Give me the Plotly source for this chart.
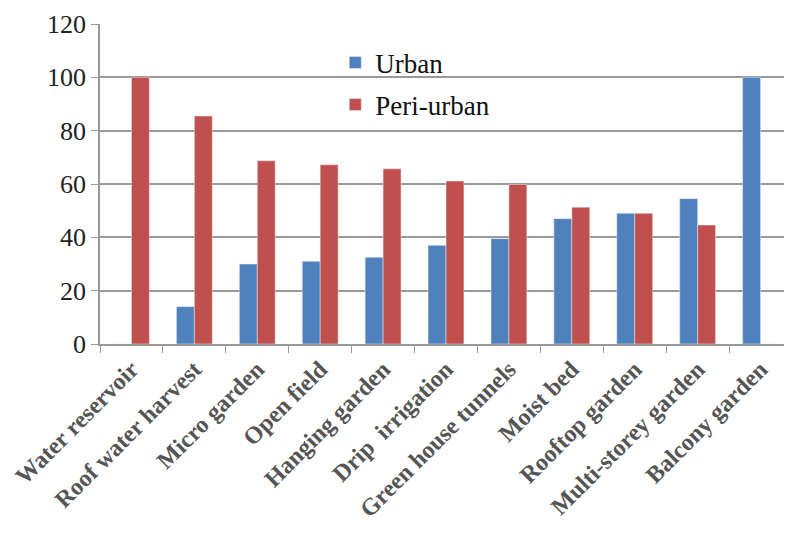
import plotly.graph_objects as go

categories = ["Water reservoir", "Roof water harvest", "Micro garden", "Open field",
              "Hanging garden", "Drip  irrigation", "Green house tunnels", "Moist bed",
              "Rooftop garden", "Multi-storey garden", "Balcony garden"]
urban = [0, 14, 30, 31, 32.5, 37, 39.5, 47, 49, 54.5, 100]
peri_urban = [100, 85.5, 68.7, 67.2, 65.7, 61.1, 59.8, 51.3, 49, 44.6, 0]
y_ticks = [0, 20, 40, 60, 80, 100, 120]

SERIF = "Liberation Serif, Times New Roman, serif"

fig = go.Figure()
fig.add_trace(go.Bar(x=categories, y=urban, name="Urban", marker_color="#4F81BD",
                     legendgroup="u"))
fig.add_trace(go.Bar(x=categories, y=peri_urban, name="Peri-urban", marker_color="#C0504D",
                     legendgroup="p"))

fig.update_layout(
    width=784, height=528,
    margin=dict(l=92, r=0, t=16, b=192),
    paper_bgcolor="white", plot_bgcolor="white",
    barmode="group", bargap=0.43, bargroupgap=0,
    font=dict(family=SERIF, size=26, color="#222"),
    showlegend=True,
    legend=dict(x=0.34, y=0.955, xanchor="left", yanchor="top",
                bgcolor="rgba(0,0,0,0)", font=dict(family=SERIF, size=27, color="#111"),
                tracegroupgap=4, traceorder="grouped"),
    xaxis=dict(showline=True, linecolor="#999", linewidth=1.5, automargin=False,
               ticks="outside", tickson="boundaries", ticklen=7, tickcolor="#999",
               tickangle=-45, tickfont=dict(family=SERIF, size=24, color="#555", weight="bold"),
               showgrid=False),
    yaxis=dict(range=[0, 120], tickvals=y_ticks, showline=True, linecolor="#999", linewidth=1.5,
               automargin=False,
               ticks="outside", ticklen=7, tickcolor="#999",
               gridcolor="#999", gridwidth=1.5, zeroline=False,
               tickfont=dict(family=SERIF, size=26, color="#222")),
)

fig.write_html("out.html")
